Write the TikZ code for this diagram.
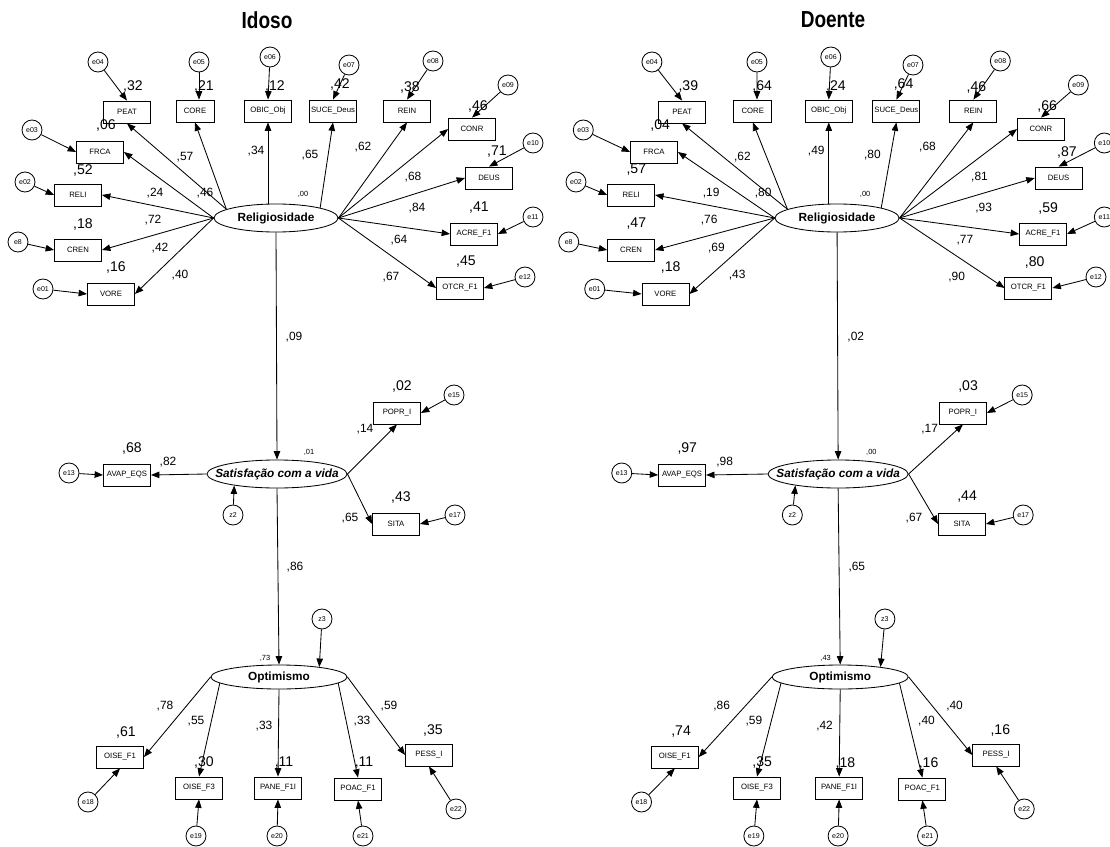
\documentclass[tikz,border=0pt]{standalone}
\usepackage{fontspec}
\setmainfont{Liberation Sans}
\newfontfamily\titlefont[FakeStretch=0.82]{Liberation Sans}
\usetikzlibrary{shapes.geometric,arrows.meta}

\begin{document}
\begin{tikzpicture}[x=0.025cm, y=-0.025cm, line width=0.6pt,
        >={Triangle[length=6pt,width=4.6pt]},
        obs/.style={draw, rectangle, minimum width=1.175cm, minimum height=0.55cm, inner sep=0pt, font=\fontsize{5.5}{6}\selectfont},
        err/.style={draw, circle, minimum size=0.5cm, inner sep=0pt, font=\fontsize{5}{6}\selectfont},
        lat/.style={draw, ellipse, inner sep=0pt, label={[font=\bfseries\fontsize{8.4}{10}\selectfont]center:#1}},
        rsq/.style={inner sep=0pt, font=\fontsize{10}{12}\selectfont},
        coef/.style={inner sep=0pt, font=\fontsize{8.5}{10}\selectfont},
        tiny/.style={inner sep=0pt, font=\fontsize{5.3}{6}\selectfont}]
        \useasboundingbox (0,0) rectangle (1110,847);

        % Titles
        \node[font=\titlefont\bfseries\fontsize{16.5}{18}\selectfont] (t1) at (267,20) {Idoso};
        \node[font=\titlefont\bfseries\fontsize{16.5}{18}\selectfont] (t2) at (833,20) {Doente};

        % Draw the two models (same layout, right one a bit wider)
        \foreach \p/\sx/\sc in {a/0/1, b/550/1.04} {
            \begin{scope}[shift={(\sx,0)}, xscale=\sc, name prefix=\p-]
                % Latent variables
                \node[lat=Religiosidade, minimum width=3.1cm, minimum height=0.7cm] (rel) at (276,218) {};
                \node[lat={\itshape Satisfação com a vida}, minimum width=3.5cm, minimum height=0.7cm] (sat) at (277,474) {};
                \node[lat=Optimismo, minimum width=3.4cm, minimum height=0.6cm] (opt) at (279,677) {};

                % Observed variables
                \foreach \n/\x/\y/\t in {peat/127/112/PEAT, obic/268/111/OBIC\_Obj, suce/333/111/SUCE\_Deus,
                    rein/407/111/REIN, conr/472/129/CONR, deus/489/178/DEUS, acre/474/234/ACRE\_F1,
                    otcr/460/288/OTCR\_F1, frca/100/152/FRCA, reli/78/195/RELI, cren/78/250/CREN,
                    vore/111/294/VORE, avap/127/475/AVAP\_EQS, popr/397/413/POPR\_I, sita/396/524/SITA,
                    oisef1/120/757/OISE\_F1, oisef3/199/788/OISE\_F3, pane/278/788/PANE\_F1I,
                    poac/358/789/POAC\_F1, pess/429/755/PESS\_I} {
                    \node[obs] (\n) at (\x,\y) {\t};
                }
                \node[obs, minimum width=0.95cm] (core) at (195,111) {CORE};

                % Error terms and disturbances
                \foreach \n/\x/\y in {e04/98/62, e05/199/62, e06/270/57, e07/349/65, e08/433/61,
                    e09/508/85, e10/533/143, e11/533/217, e12/525/277, e03/32/130, e02/25/182,
                    e8/18/242, e01/43/289, e13/69/473, z2/233/515, e15/454/395, e17/455/515,
                    z3/322/619, e18/88/802, e19/196/836, e20/277/836, e21/363/836, e22/456/809} {
                    \node[err] (\n) at (\x,\y) {\n};
                }

                % Arrows from error terms
                \foreach \src/\dst in {e04/peat.north, e06/obic.north, e07/suce.north, e08/rein.north,
                    e09/conr.north, e10/deus.north, e11/acre.east, e12/otcr.east, e03/frca.west,
                    e02/reli.west, e8/cren.west, e01/vore.west, e13/avap.west, e15/popr.east,
                    e17/sita.east, e18/oisef1.south, e19/oisef3.south, e20/pane.south,
                    e21/poac.south, e22/pess.south, z2/sat.195, z3/opt.14} {
                    \draw[->] (\src) -- (\dst);
                }
                \draw[->] (e05) -- (e05 |- core.north);

                % Loadings and structural paths
                \foreach \src/\dst in {rel.170/peat.south, rel.170/core.south, rel.north east/suce.south,
                    rel.east/rein.south, rel.east/conr.west, rel.east/deus.west, rel.east/acre.west,
                    rel.east/otcr.west, rel.west/frca.east, rel.west/reli.east, rel.west/cren.east,
                    rel.west/vore.east, rel.south/sat.north, sat.west/avap.east, sat.east/popr.south,
                    sat.east/sita.west, sat.south/opt.north, opt.west/oisef1.east, opt.186/oisef3.north,
                    opt.south/pane.north, opt.354/poac.north, opt.east/pess.west} {
                    \draw[->] (\src) -- (\dst);
                }
                \draw[->] (obic.south |- rel.north) -- (obic.south);
            \end{scope}
        }

        % Estimates (left value: Idoso, right value: Doente)
        \foreach \x/\y/\s/\a/\b [count=\i] in {133/86/rsq/32/39, 204/86/rsq/21/64, 275/86/rsq/12/24,
            340/84/rsq/42/64, 410/87/rsq/38/46, 478/106/rsq/46/66, 497/152/rsq/71/87,
            479/208/rsq/41/59, 466/262/rsq/45/80, 106/125/rsq/06/04, 83/170/rsq/52/57,
            83/224/rsq/18/47, 116/267/rsq/16/18, 185/157/coef/57/62, 205/193/coef/46/80,
            256/151/coef/34/49, 155/193/coef/24/19, 153/220/coef/72/76, 160/248/coef/42/69,
            180/275/coef/40/43, 310/155/coef/65/80, 363/147/coef/62/68, 413/177/coef/68/81,
            417/208/coef/84/93, 399/240/coef/64/77, 391/277/coef/67/90, 303/194/tiny/00/00,
            294/337/coef/09/02, 132/448/rsq/68/97, 168/462/coef/82/98, 402/386/rsq/02/03,
            365/429/coef/14/17, 309/452/tiny/01/00, 401/497/rsq/43/44, 350/518/coef/65/67,
            295/567/coef/86/65, 265/658/tiny/73/43, 165/706/coef/78/86, 196/721/coef/55/59,
            126/732/rsq/61/74, 204/762/rsq/30/35, 264/726/coef/33/42, 284/763/rsq/11/18,
            362/721/coef/33/40, 364/763/rsq/11/16, 389/706/coef/59/40, 433/730/rsq/35/16} {
            \node[\s] (a-v\i) at (\x,\y) {,\a};
            \node[\s] (b-v\i) at ({550+1.04*\x},\y) {,\b};
        }
\end{tikzpicture}
\end{document}
